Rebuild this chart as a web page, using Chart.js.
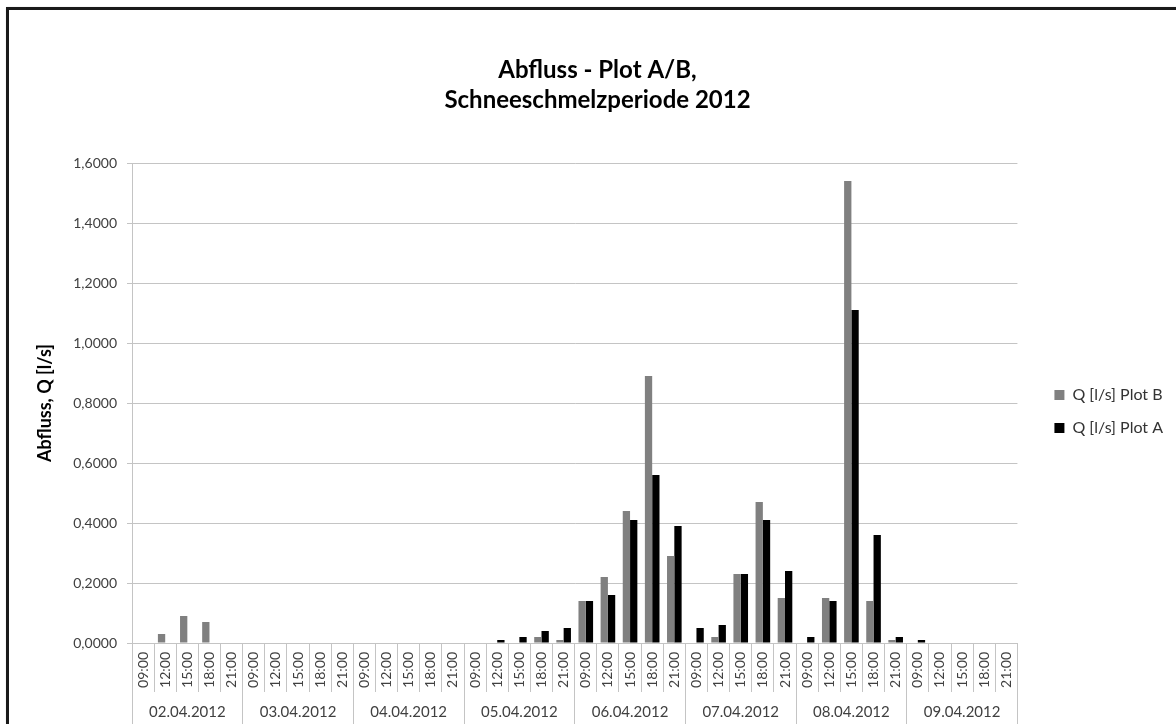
<!DOCTYPE html>
<html>
<head>
<meta charset="utf-8">
<script src="https://cdn.jsdelivr.net/npm/chart.js@4"></script>
<style>
  html, body { margin: 0; padding: 0; background: #fff; overflow: hidden; }
  #wrap { position: absolute; left: 0; top: 0; width: 1176px; height: 724px; }
  #frame { position: absolute; left: 6px; top: 7px; width: 1200px; height: 760px;
           border: 3px solid #1a1a1a; box-shadow: 1px 1px 2px #888; pointer-events: none; }
</style>
</head>
<body>
<div id="wrap"><canvas id="abflussChart"></canvas></div>
<div id="frame"></div>
<script>
var days = ["02.04.2012", "03.04.2012", "04.04.2012", "05.04.2012",
            "06.04.2012", "07.04.2012", "08.04.2012", "09.04.2012"];
var times = ["09:00", "12:00", "15:00", "18:00", "21:00"];

// Q [l/s], one value per day/time slot
var plotB = [0, 0.03, 0.09, 0.07, 0,
             0, 0, 0, 0, 0,
             0, 0, 0, 0, 0,
             0, 0, 0, 0.02, 0.01,
             0.14, 0.22, 0.44, 0.89, 0.29,
             0, 0.02, 0.23, 0.47, 0.15,
             0, 0.15, 1.54, 0.14, 0.01,
             0, 0, 0, 0, 0];
var plotA = [0, 0, 0, 0, 0,
             0, 0, 0, 0, 0,
             0, 0, 0, 0, 0,
             0, 0.01, 0.02, 0.04, 0.05,
             0.14, 0.16, 0.41, 0.56, 0.39,
             0.05, 0.06, 0.23, 0.41, 0.24,
             0.02, 0.14, 1.11, 0.36, 0.02,
             0.01, 0, 0, 0, 0];

var yTicks = ["0,0000", "0,2000", "0,4000", "0,6000", "0,8000", "1,0000", "1,2000", "1,4000", "1,6000"];

var labels = [];
days.forEach(function (d) {
    times.forEach(function (t) { labels.push(t); });
});

var font = "Lato";
var gridGray = "#c4c4c4";

new Chart("abflussChart", {
    type: "bar",
    data: {
        labels: labels,
        datasets: [{
            label: "Q [l/s] Plot B",
            data: plotB,
            backgroundColor: "#808080",
            borderWidth: 0
        }, {
            label: "Q [l/s] Plot A",
            data: plotA,
            backgroundColor: "#000000",
            borderWidth: 0
        }]
    },
    options: {
        responsive: true,
        maintainAspectRatio: false,
        animation: false,
        categoryPercentage: 0.66,
        barPercentage: 1.0,
        layout: {
            padding: { left: 22, right: 3, top: 40, bottom: 0 }
        },
        plugins: {
            title: {
                display: true,
                text: ["Abfluss - Plot A/B,", "Schneeschmelzperiode 2012"],
                color: "#000",
                font: { family: font, size: 24, weight: "bold", lineHeight: 1.25 },
                padding: { top: 15, bottom: 48 }
            },
            legend: {
                position: "right",
                // blank title only pushes the entries down a bit
                title: {
                    display: true,
                    text: " ",
                    font: { family: font, size: 16 },
                    padding: { top: 40, bottom: 0 }
                },
                labels: {
                    boxWidth: 10,
                    boxHeight: 10,
                    padding: 17,
                    color: "#333",
                    font: { family: font, size: 16 }
                }
            },
            tooltip: { enabled: false }
        },
        scales: {
            x: {
                type: "category",
                offset: true,
                weight: 0,
                grid: {
                    offset: true,
                    drawOnChartArea: false,
                    tickLength: 49,
                    color: gridGray
                },
                border: { display: true, color: gridGray },
                ticks: {
                    autoSkip: false,
                    minRotation: 90,
                    maxRotation: 90,
                    padding: -40,
                    color: "#404040",
                    font: { family: font, size: 14 }
                },
                afterFit: function (s) { s.height = 49; }
            },
            x2: {
                type: "category",
                labels: days,
                position: "bottom",
                offset: true,
                weight: 1,
                grid: {
                    offset: true,
                    drawOnChartArea: false,
                    tickLength: 40,
                    color: gridGray
                },
                border: { display: false },
                ticks: {
                    autoSkip: false,
                    maxRotation: 0,
                    padding: -29,
                    color: "#404040",
                    font: { family: font, size: 15 }
                },
                afterFit: function (s) { s.height = 32; }
            },
            y: {
                min: 0,
                max: 1.6,
                ticks: {
                    stepSize: 0.2,
                    padding: 10,
                    color: "#404040",
                    font: { family: font, size: 14 },
                    callback: function (v, i) { return yTicks[i]; }
                },
                grid: { color: gridGray, tickLength: 5 },
                border: { display: true, color: gridGray },
                title: {
                    display: true,
                    text: "Abfluss, Q [l/s]",
                    color: "#000",
                    font: { family: font, size: 18, weight: "bold" },
                    padding: { top: 12, bottom: 0 }
                },
                afterFit: function (s) { s.width = 110; }
            },
            // empty gap between plot area and legend
            gap: {
                type: "linear",
                position: "right",
                display: true,
                grid: { display: false },
                border: { display: false },
                ticks: { display: false },
                afterFit: function (s) { s.width = 20; }
            }
        }
    }
});
</script>
</body>
</html>
